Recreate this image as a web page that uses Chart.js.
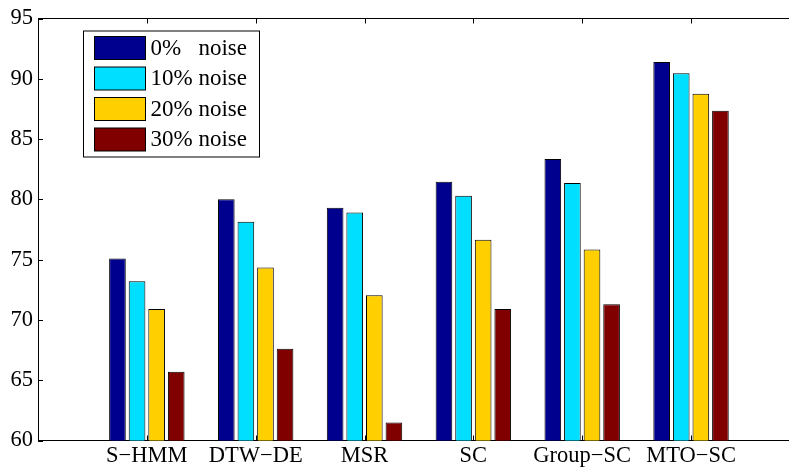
<!DOCTYPE html>
<html>
<head>
<meta charset="utf-8">
<script src="https://cdn.jsdelivr.net/npm/chart.js@4.4.1/dist/chart.umd.min.js"></script>
<style>
  html, body { margin: 0; padding: 0; background: #fff; overflow: hidden; }
</style>
</head>
<body>
<canvas id="noiseChart" width="789" height="470"></canvas>
<script>
// methods on the x axis
const categories = ['S\u2212HMM', 'DTW\u2212DE', 'MSR', 'SC', 'Group\u2212SC', 'MTO\u2212SC'];
// accuracy per noise level
const noise0 = [75.1, 80.0, 79.3, 81.45, 83.35, 91.4];
const noise10 = [73.2, 78.15, 78.9, 80.3, 81.35, 90.45];
const noise20 = [70.9, 74.35, 72.05, 76.65, 75.85, 88.75];
const noise30 = [65.7, 67.6, 61.5, 70.9, 71.3, 87.35];
const seriesLabels = ['0%   noise', '10% noise', '20% noise', '30% noise'];
const yTicks = [60, 65, 70, 75, 80, 85, 90, 95];

const colors = ['#00008f', '#00dfff', '#ffcf00', '#800000'];
const font = { family: 'Liberation Serif', size: 22.5 };

function toPoints(arr) {
    return arr.map((v, i) => ({ x: i + 1, y: v }));
}

const datasets = [noise0, noise10, noise20, noise30].map((arr, i) => ({
    label: seriesLabels[i],
    data: toPoints(arr),
    backgroundColor: colors[i],
    borderColor: '#000',
    borderWidth: 1,
    borderSkipped: false,
    categoryPercentage: 0.72,
    barPercentage: 0.85
}));

// MATLAB style ticks pointing into the plot, plus the legend box
const matlabBits = {
    id: 'matlabBits',
    afterDatasetsDraw(chart) {
        const ctx = chart.ctx;
        const x = chart.scales.x;
        const y = chart.scales.y;
        const area = chart.chartArea;
        ctx.save();
        ctx.strokeStyle = '#000';
        ctx.lineWidth = 1;
        ctx.beginPath();
        yTicks.forEach(t => {
            const py = Math.round(y.getPixelForValue(t)) + 0.5;
            ctx.moveTo(area.left, py);
            ctx.lineTo(area.left + 5, py);
        });
        categories.forEach((c, i) => {
            const px = Math.round(x.getPixelForValue(i + 1)) + 0.5;
            ctx.moveTo(px, area.top);
            ctx.lineTo(px, area.top + 5);
            ctx.moveTo(px, area.bottom);
            ctx.lineTo(px, area.bottom - 5);
        });
        ctx.stroke();

        // legend
        const lx = area.left + 45.5, ly = area.top + 12.5;
        const lw = 176, lh = 126;
        ctx.fillStyle = '#fff';
        ctx.fillRect(lx, ly, lw, lh);
        ctx.strokeRect(lx, ly, lw, lh);
        ctx.font = '23px "Liberation Serif"';
        ctx.textBaseline = 'middle';
        chart.data.datasets.forEach((ds, i) => {
            const cy = ly + 16.5 + i * 30.5;
            ctx.fillStyle = ds.backgroundColor;
            ctx.fillRect(lx + 11, cy - 11, 51, 23);
            ctx.strokeRect(lx + 11, cy - 11, 51, 23);
            ctx.fillStyle = '#000';
            ctx.fillText(ds.label, lx + 67, cy + 1);
        });
        ctx.restore();
    }
};

const ctx = document.getElementById('noiseChart').getContext('2d');
const noiseChart = new Chart(ctx, {
    type: 'bar',
    data: { datasets: datasets },
    options: {
        responsive: false,
        animation: false,
        layout: { padding: 0 },
        plugins: {
            legend: { display: false },
            tooltip: { enabled: false }
        },
        scales: {
            x: {
                type: 'linear',
                position: 'bottom',
                offset: false,
                min: 0,
                max: 6.9,
                afterBuildTicks: s => { s.ticks = categories.map((c, i) => ({ value: i + 1 })); },
                afterFit: s => { s.height = 29.5; },
                grid: { display: false, drawTicks: false },
                border: { display: true, color: '#000', width: 1 },
                ticks: {
                    autoSkip: false,
                    maxRotation: 0,
                    padding: 2,
                    color: '#000',
                    font: font,
                    callback: v => categories[v - 1] || ''
                }
            },
            x2: {
                type: 'linear',
                position: 'top',
                offset: false,
                min: 0,
                max: 6.9,
                afterFit: s => { s.height = 16; },
                grid: { display: false, drawTicks: false },
                border: { display: true, color: '#000', width: 1 },
                ticks: { display: false }
            },
            y: {
                min: 60,
                max: 95,
                afterBuildTicks: s => { s.ticks = yTicks.map(v => ({ value: v })); },
                afterFit: s => { s.width = 38; },
                grid: { display: false, drawTicks: false },
                border: { display: true, color: '#000', width: 1 },
                ticks: {
                    padding: 5,
                    color: '#000',
                    font: font
                }
            }
        }
    },
    plugins: [matlabBits]
});
</script>
</body>
</html>
